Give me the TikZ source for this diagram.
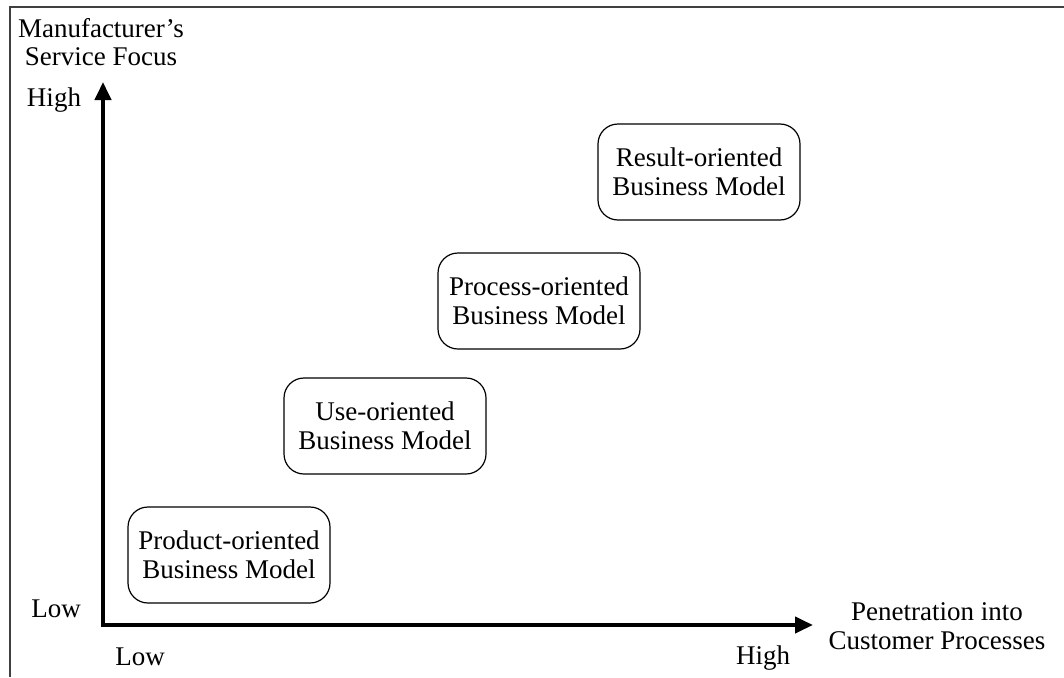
\documentclass[tikz,border=0pt]{standalone}
\usepackage{fontspec}
\setmainfont{Liberation Serif}
\usetikzlibrary{arrows.meta}
\begin{document}
\begin{tikzpicture}[x=1pt,y=-1pt,
  every node/.style={font=\fontsize{27}{28.5}\selectfont, align=center, inner sep=0pt},
  model/.style={draw, line width=1.2pt, rounded corners=20pt,
    minimum width=202pt, minimum height=96pt},
  axis/.style={line width=4pt, -{Triangle[length=18pt,width=16pt]}},
  frame/.style={line width=1.5pt, draw=black!75}]
\useasboundingbox (0,0) rectangle (1064,677);
% partial frame
\coordinate (fbl) at (10,677);
\coordinate (ftl) at (10,7);
\coordinate (ftr) at (1064,7);
\draw[frame] (fbl) -- (ftl) -- (ftr);
% axes
\coordinate (yo) at (103,627);
\coordinate (ytip) at (103,82);
\coordinate (xo) at (101,625);
\coordinate (xtip) at (813,625);
\draw[axis] (yo) -- (ytip);
\draw[axis] (xo) -- (xtip);
% axis labels
\node (ylab) at (101,42) {Manufacturer’s\\Service Focus};
\node (yhigh) at (54,100) {High};
\node (ylow) at (56,609) {Low};
\node (xlow) at (140,657) {Low};
\node (xhigh) at (763,658) {High};
\node (xlab) at (937,626) {Penetration into\\Customer Processes};
% business models
\node[model] (product) at (229,555) {Product-oriented\\Business Model};
\node[model] (use) at (385,426) {Use-oriented\\Business Model};
\node[model] (process) at (539,301) {Process-oriented\\Business Model};
\node[model] (result) at (699,172) {Result-oriented\\Business Model};
\end{tikzpicture}
\end{document}
